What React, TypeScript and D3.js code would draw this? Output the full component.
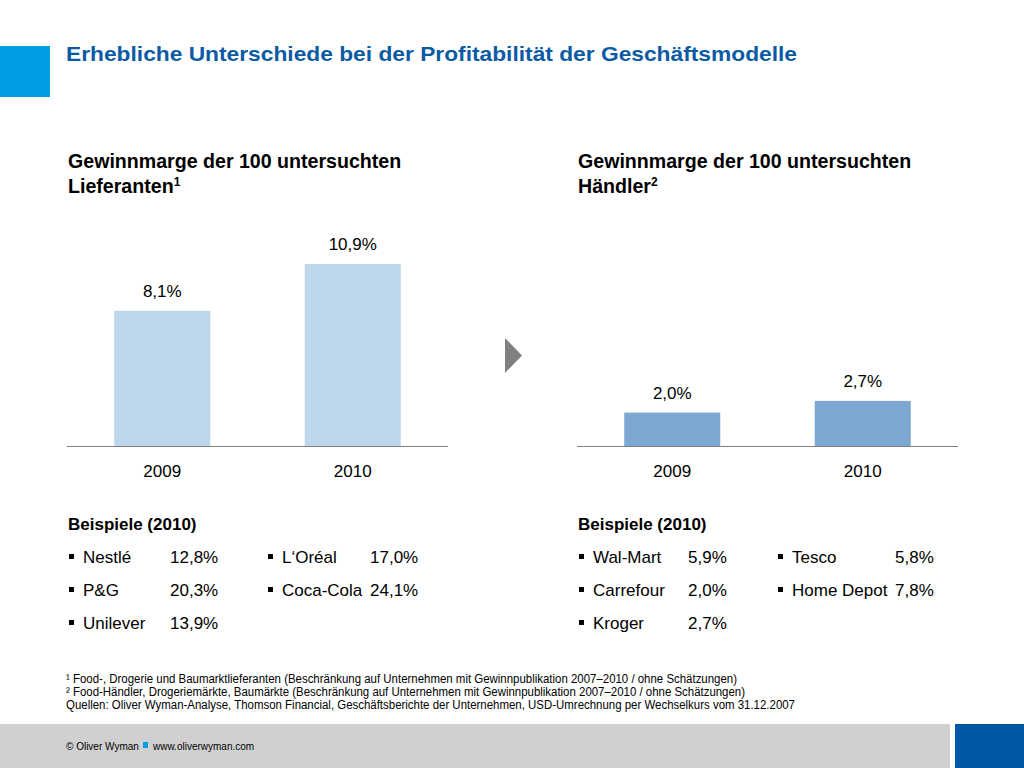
import React from "react";
import * as d3 from "d3";

const years = ["2009", "2010"];
const supplierMargins = [8.1, 10.9];
const retailerMargins = [2.0, 2.7];
const supplierExamples = [
  { name: "Nestlé", value: "12,8%" },
  { name: "P&G", value: "20,3%" },
  { name: "Unilever", value: "13,9%" },
  { name: "L‘Oréal", value: "17,0%" },
  { name: "Coca-Cola", value: "24,1%" },
];
const retailerExamples = [
  { name: "Wal-Mart", value: "5,9%" },
  { name: "Carrefour", value: "2,0%" },
  { name: "Kroger", value: "2,7%" },
  { name: "Tesco", value: "5,8%" },
  { name: "Home Depot", value: "7,8%" },
];
const footnotes = [
  "¹ Food-, Drogerie und Baumarktlieferanten (Beschränkung auf Unternehmen mit Gewinnpublikation 2007–2010 / ohne Schätzungen)",
  "² Food-Händler, Drogeriemärkte, Baumärkte (Beschränkung auf Unternehmen mit Gewinnpublikation 2007–2010 / ohne Schätzungen)",
  "Quellen: Oliver Wyman-Analyse, Thomson Financial, Geschäftsberichte der Unternehmen, USD-Umrechnung per Wechselkurs vom 31.12.2007",
];
const footnoteWidths = [671, 679, 729];

const FONT = "'Liberation Sans', Arial, sans-serif";

const y = d3.scaleLinear().domain([0, 10.9]).range([446, 264]);
const fmt = (v: number) => d3.format(".1f")(v).replace(".", ",") + "%";

function BarPanel({ x0, values, color, titleLine1, titleLine2, sup, examples, col2 }: any) {
  const x = d3
    .scaleBand<string>()
    .domain(years)
    .range([x0 - 1, x0 + 380])
    .paddingInner(0.496)
    .paddingOuter(0.248);
  const names = examples.slice(0, 3);
  const names2 = examples.slice(3);
  const rows = [563, 596, 629];
  return (
    <g fontFamily={FONT}>
      <text x={x0} y={168} fontSize={19.6} fontWeight="bold" fill="#000">
        {titleLine1}
      </text>
      <text x={x0} y={193} fontSize={19.6} fontWeight="bold" fill="#000">
        {titleLine2}
        <tspan fontSize={12} dy={-7}>
          {sup}
        </tspan>
      </text>
      {values.map((v: number, i: number) => (
        <g key={i}>
          <rect x={x(years[i])} y={y(v)} width={x.bandwidth()} height={y(0) - y(v)} fill={color} />
          <text x={x(years[i])! + x.bandwidth() / 2} y={y(v) - 14} fontSize={17} textAnchor="middle" fill="#000">
            {fmt(v)}
          </text>
          <text x={x(years[i])! + x.bandwidth() / 2} y={477} fontSize={17} textAnchor="middle" fill="#000">
            {years[i]}
          </text>
        </g>
      ))}
      <line x1={x0 - 1} x2={x0 + 380} y1={y(0) + 0.5} y2={y(0) + 0.5} stroke="#808080" strokeWidth={1} />
      <text x={x0} y={530} fontSize={17} fontWeight="bold" fill="#000">
        Beispiele (2010)
      </text>
      {names.map((e: any, i: number) => (
        <g key={"a" + i}>
          <rect x={x0 + 1} y={rows[i] - 9} width={5} height={5} fill="#000" />
          <text x={x0 + 15} y={rows[i]} fontSize={17} fill="#000">{e.name}</text>
          <text x={x0 + col2.v1} y={rows[i]} fontSize={17} fill="#000">{e.value}</text>
        </g>
      ))}
      {names2.map((e: any, i: number) => (
        <g key={"b" + i}>
          <rect x={x0 + col2.b} y={rows[i] - 9} width={5} height={5} fill="#000" />
          <text x={x0 + col2.b + 14} y={rows[i]} fontSize={17} fill="#000">{e.name}</text>
          <text x={x0 + col2.v2} y={rows[i]} fontSize={17} fill="#000">{e.value}</text>
        </g>
      ))}
    </g>
  );
}

export default function App() {
  return (
    <div style={{ position: "absolute", left: 0, top: 0, width: 1024, height: 768, background: "#fff" }}>
      <svg width={1024} height={768} style={{ display: "block" }}>
        <rect x={0} y={0} width={1024} height={768} fill="#fff" />
        <rect x={0} y={46} width={50} height={51} fill="#009fe3" />
        <text
          x={66}
          y={61}
          fontFamily={FONT}
          fontSize={21}
          fontWeight="bold"
          fill="#0b5ba4"
          textLength={731}
          lengthAdjust="spacingAndGlyphs"
        >
          Erhebliche Unterschiede bei der Profitabilität der Geschäftsmodelle
        </text>

        <BarPanel
          x0={68}
          values={supplierMargins}
          color="#bdd7ea"
          titleLine1="Gewinnmarge der 100 untersuchten"
          titleLine2="Lieferanten"
          sup="1"
          examples={supplierExamples}
          col2={{ v1: 102, b: 200, v2: 302 }}
        />
        <BarPanel
          x0={578}
          values={retailerMargins}
          color="#7ba7d1"
          titleLine1="Gewinnmarge der 100 untersuchten"
          titleLine2="Händler"
          sup="2"
          examples={retailerExamples}
          col2={{ v1: 110, b: 200, v2: 317 }}
        />

        <path d="M505,338 L522,355.5 L505,373 Z" fill="#808080" />

        {footnotes.map((f, i) => (
          <text
            key={i}
            x={66}
            y={683 + i * 13}
            fontFamily={FONT}
            fontSize={12.5}
            fill="#000"
            textLength={footnoteWidths[i]}
            lengthAdjust="spacingAndGlyphs"
          >
            {f}
          </text>
        ))}

        <rect x={0} y={724} width={950} height={44} fill="#d0d0d0" />
        <rect x={955} y={724} width={69} height={44} fill="#0057a3" />
        <text x={66} y={750} fontFamily={FONT} fontSize={10} fill="#000">
          © Oliver Wyman
        </text>
        <rect x={143} y={742} width={5} height={6} fill="#009fe3" />
        <text x={153} y={750} fontFamily={FONT} fontSize={10} fill="#000">
          www.oliverwyman.com
        </text>
      </svg>
    </div>
  );
}
